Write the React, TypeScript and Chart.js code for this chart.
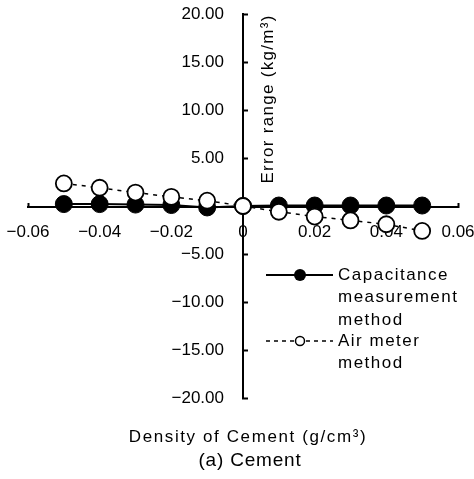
import React, { useEffect, useRef } from "react";
import { Chart, registerables } from "chart.js";

Chart.register(...registerables);

// ---- data ----
const densities = [-0.05, -0.04, -0.03, -0.02, -0.01, 0, 0.01, 0.02, 0.03, 0.04, 0.05];
const capacitanceErrors = [0.2, 0.2, 0.15, 0.1, -0.15, 0.0, 0.05, 0.05, 0.05, 0.05, 0.05];
const airMeterErrors = [2.35, 1.9, 1.4, 0.95, 0.55, 0.0, -0.6, -1.1, -1.5, -1.9, -2.6];

const xTickValues = [-0.06, -0.04, -0.02, 0, 0.02, 0.04, 0.06];
const yTickValues = [-20, -15, -10, -5, 0, 5, 10, 15, 20];

const seriesNames = ["Capacitance measurement method", "Air meter method"];
const legendLines1 = ["Capacitance", "measurement", "method"];
const legendLines2 = ["Air meter", "method"];
const xTitle = "Density of Cement (g/cm\u00B3)";
const yTitle = "Error range (kg/m\u00B3)";
const caption = "(a) Cement";

const FONT = '"Liberation Sans", Arial, Helvetica, sans-serif';

const fmt = (v: number, decimals: number) => {
  const s = Math.abs(v).toFixed(decimals);
  return v < 0 ? "\u2212" + s : s;
};

const decorPlugin = {
  id: "decor",
  afterDraw(chart: any) {
    const ctx: CanvasRenderingContext2D = chart.ctx;
    ctx.save();
    ctx.fillStyle = "#000";
    ctx.strokeStyle = "#000";
    ctx.textBaseline = "middle";

    // x axis title
    ctx.font = `17px ${FONT}`;
    (ctx as any).letterSpacing = "1.6px";
    ctx.textAlign = "center";
    ctx.fillText(xTitle, 248, 437);

    // caption
    ctx.font = `19px ${FONT}`;
    (ctx as any).letterSpacing = "0.8px";
    ctx.fillText(caption, 250, 461);

    // y axis title (rotated, reading bottom to top)
    ctx.save();
    ctx.translate(268, 99);
    ctx.rotate(-Math.PI / 2);
    ctx.font = `17px ${FONT}`;
    (ctx as any).letterSpacing = "1.3px";
    ctx.textAlign = "center";
    ctx.fillText(yTitle, 0, 0);
    ctx.restore();

    // legend
    const lx0 = 266, lx1 = 333, cx = 300, tx = 338;
    // series 1: solid line + filled circle
    ctx.setLineDash([]);
    ctx.lineWidth = 2;
    ctx.beginPath();
    ctx.moveTo(lx0, 275);
    ctx.lineTo(lx1, 275);
    ctx.stroke();
    ctx.beginPath();
    ctx.arc(cx, 275, 6, 0, Math.PI * 2);
    ctx.fillStyle = "#000";
    ctx.fill();
    // series 2: dashed line + open circle
    ctx.lineWidth = 1.5;
    ctx.setLineDash([4, 4]);
    ctx.beginPath();
    ctx.moveTo(lx0, 341);
    ctx.lineTo(lx1, 341);
    ctx.stroke();
    ctx.setLineDash([]);
    ctx.beginPath();
    ctx.arc(cx, 341, 4.5, 0, Math.PI * 2);
    ctx.fillStyle = "#fff";
    ctx.fill();
    ctx.stroke();

    ctx.fillStyle = "#000";
    ctx.font = `17px ${FONT}`;
    (ctx as any).letterSpacing = "1.5px";
    ctx.textAlign = "left";
    legendLines1.forEach((t, i) => ctx.fillText(t, tx, 275 + i * 22.5));
    legendLines2.forEach((t, i) => ctx.fillText(t, tx, 341 + i * 22.5));

    ctx.restore();
  },
};

export default function App() {
  const ref = useRef<HTMLCanvasElement | null>(null);

  useEffect(() => {
    if (!ref.current) return;
    const chart = new Chart(ref.current, {
      type: "scatter",
      data: {
        datasets: [
          {
            label: seriesNames[1],
            data: densities.map((x, i) => ({ x, y: airMeterErrors[i] })),
            showLine: true,
            borderColor: "#000",
            borderWidth: 1.5,
            borderDash: [4, 5],
            pointRadius: 8,
            pointBackgroundColor: "#fff",
            pointBorderColor: "#000",
            pointBorderWidth: 1.8,
            order: 0,
          },
          {
            label: seriesNames[0],
            data: densities.map((x, i) => ({ x, y: capacitanceErrors[i] })),
            showLine: true,
            borderColor: "#000",
            borderWidth: 2,
            pointRadius: 8.5,
            pointBackgroundColor: "#000",
            pointBorderColor: "#000",
            pointBorderWidth: 1,
            order: 1,
          },
        ],
      },
      options: {
        responsive: false,
        animation: false,
        devicePixelRatio: 1,
        layout: { padding: { left: 28, right: 16, top: 14, bottom: 81 } },
        plugins: {
          legend: { display: false },
          tooltip: { enabled: false },
          title: { display: false },
        },
        scales: {
          x: {
            type: "linear",
            position: "center",
            min: -0.06,
            max: 0.06,
            afterBuildTicks: (scale: any) => {
              scale.ticks = xTickValues.map((v) => ({ value: v }));
            },
            afterFit: (scale: any) => {
              scale.height = 0;
              scale.paddingLeft = 0;
              scale.paddingRight = 0;
            },
            grid: {
              display: true,
              drawOnChartArea: false,
              drawTicks: true,
              tickLength: -5,
              tickWidth: 2,
              tickColor: (c: any) =>
                c.tick && Math.abs(c.tick.value) > 0.059 ? "#000" : "rgba(0,0,0,0)",
            },
            border: { display: true, color: "#000", width: 2 },
            ticks: {
              autoSkip: false,
              maxRotation: 0,
              padding: 21,
              color: "#000",
              font: { family: FONT, size: 17 },
              callback: (v: any) => (Number(v) === 0 ? "0" : fmt(Number(v), 2)),
            },
          },
          y: {
            type: "linear",
            position: "center",
            min: -20,
            max: 20,
            afterBuildTicks: (scale: any) => {
              scale.ticks = yTickValues.map((v) => ({ value: v }));
            },
            afterFit: (scale: any) => {
              scale.width = 0;
              scale.paddingTop = 0;
              scale.paddingBottom = 0;
            },
            grid: {
              display: true,
              drawOnChartArea: false,
              drawTicks: true,
              tickLength: -6,
              tickWidth: 2,
              tickColor: "#000",
            },
            border: { display: true, color: "#000", width: 2 },
            ticks: {
              autoSkip: false,
              padding: 25,
              color: "#000",
              font: { family: FONT, size: 17 },
              callback: (v: any) => (Number(v) === 0 ? "" : fmt(Number(v), 2)),
            },
          },
        },
      },
      plugins: [decorPlugin],
    } as any);
    return () => chart.destroy();
  }, []);

  return (
    <div style={{ position: "absolute", left: 0, top: 0, width: 474, height: 479, background: "#fff" }}>
      <canvas ref={ref} width={474} height={479} style={{ display: "block", width: 474, height: 479 }} />
    </div>
  );
}
